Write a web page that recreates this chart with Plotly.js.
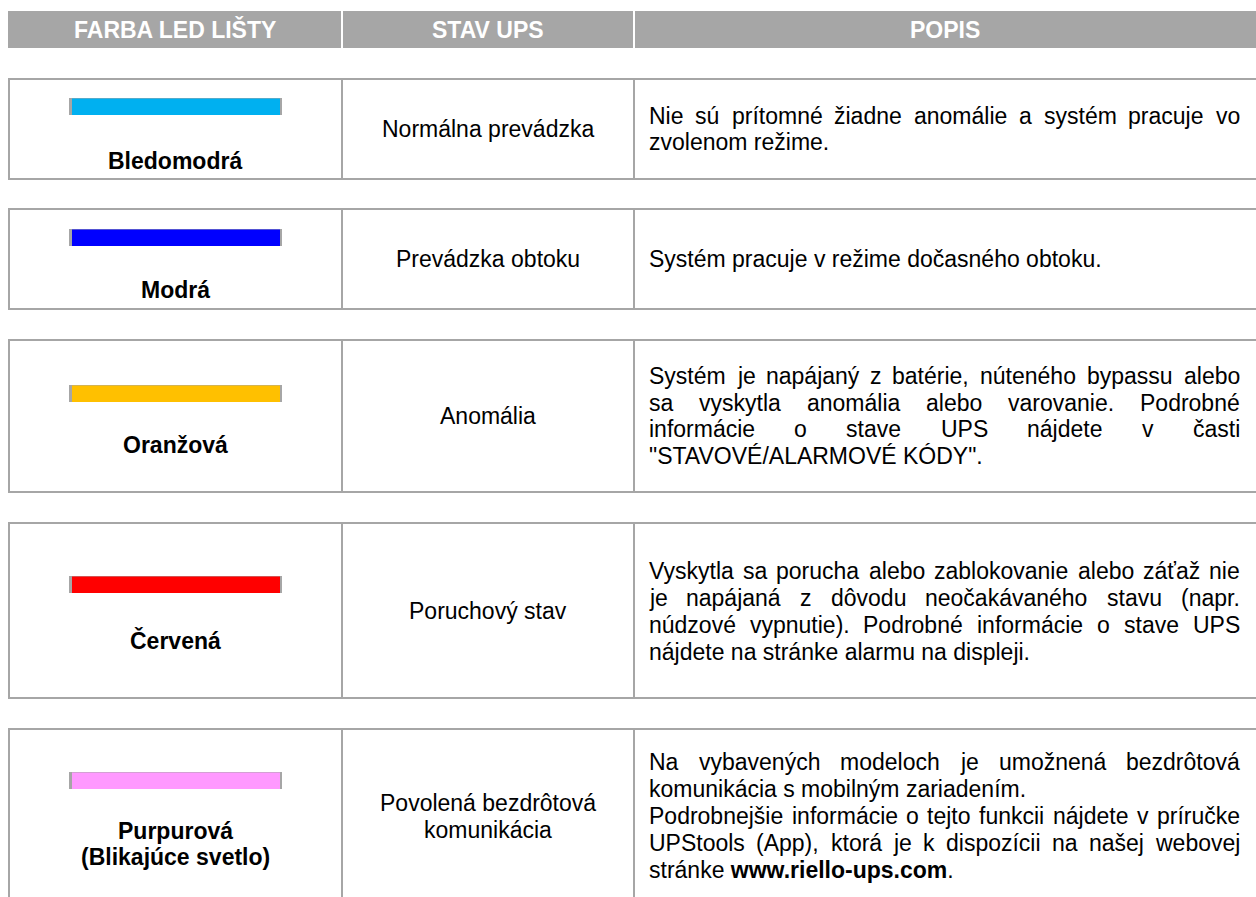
<!DOCTYPE html>
<html><head><meta charset="utf-8">
<script src="https://cdn.plot.ly/plotly-3.0.1.min.js"></script>
<style>html,body{margin:0;padding:0;background:#fff;overflow:hidden}#chart{width:1256px;height:897px}</style>
</head><body><div id="chart"></div>
<script>
// ---------- data ----------
const headers = ["FARBA LED LIŠTY", "STAV UPS", "POPIS"];
const colorNames = [["Bledomodrá"], ["Modrá"], ["Oranžová"], ["Červená"], ["Purpurová", "(Blikajúce svetlo)"]];
const ledColors = ["#00b0f0", "#0000ff", "#ffc000", "#ff0000", "#ff99ff"];
const states = [["Normálna prevádzka"], ["Prevádzka obtoku"], ["Anomália"], ["Poruchový stav"], ["Povolená bezdrôtová", "komunikácia"]];
const descriptions = [
  [["Nie sú prítomné žiadne anomálie a systém pracuje vo", "zvolenom režime."]],
  [["Systém pracuje v režime dočasného obtoku."]],
  [["Systém je napájaný z batérie, núteného bypassu alebo", "sa vyskytla anomália alebo varovanie. Podrobné", "informácie o stave UPS nájdete v časti", "\"STAVOVÉ/ALARMOVÉ KÓDY\"."]],
  [["Vyskytla sa porucha alebo zablokovanie alebo záťaž nie", "je napájaná z dôvodu neočakávaného stavu (napr.", "núdzové vypnutie). Podrobné informácie o stave UPS", "nájdete na stránke alarmu na displeji."]],
  [["Na vybavených modeloch je umožnená bezdrôtová", "komunikácia s mobilným zariadením."],
   ["Podrobnejšie informácie o tejto funkcii nájdete v príručke", "UPStools (App), ktorá je k dispozícii na našej webovej", "stránke <b>www.riello-ups.com</b>."]]
];

// ---------- layout constants ----------
const W = 1256, H = 897;
const colEdges = [8, 342, 634, 1256];
const headerTop = 11, headerBottom = 48;
const rowTop = [79, 209, 340, 523, 729];
const rowBottom = [179, 309, 492, 698, null];
const barTop = [98, 229, 385, 576, 772];
const barH = 17, barX0 = 69, barX1 = 282;
const labelY = [[161], [290], [445], [640], [831, 857]];
const stateY = [[129], [259], [416], [611], [803, 829.5]];
const descY = [[115.6, 142.4], [259], [375.8, 402.6, 429.4, 456.2], [571.3, 598.1, 624.9, 651.7], [762.4, 789.2, 816, 842.8, 869.6]];
const descLeft = 649, descRight = 1240;
const FONT = "Liberation Sans, Arial, sans-serif";
const FS = 23;
const GRID = "#a6a6a6";

const ctx = document.createElement("canvas").getContext("2d");
ctx.font = FS + "px 'Liberation Sans'";
const tw = s => ctx.measureText(s).width;

const shapes = [];
const annotations = [];
const line = (x0, y0, x1, y1, color, w) => shapes.push({type: "line", xref: "x", yref: "y", x0, y0, x1, y1, line: {color, width: w}});
const rect = (x0, y0, x1, y1, fill) => shapes.push({type: "rect", xref: "x", yref: "y", x0, y0, x1, y1, fillcolor: fill, line: {width: 0}});
const text = (t, x, y, xanchor, opts = {}) => annotations.push({
  text: t, x, y, xref: "x", yref: "y", xanchor, yanchor: "middle", showarrow: false,
  borderpad: 0, borderwidth: 0, font: {family: FONT, size: FS, color: opts.color || "#000"}
});

// header
rect(colEdges[0], headerTop, colEdges[3], headerBottom, GRID);
line(colEdges[1], headerTop, colEdges[1], headerBottom, "#ffffff", 2);
line(colEdges[2], headerTop, colEdges[2], headerBottom, "#ffffff", 2);
headers.forEach((h, i) => text("<b>" + h + "</b>", (colEdges[i] + colEdges[i + 1]) / 2, (headerTop + headerBottom) / 2, "center", {color: "#ffffff"}));

// rows
rowTop.forEach((top, r) => {
  const bottom = rowBottom[r] === null ? H + 2 : rowBottom[r];
  line(colEdges[0], top, colEdges[3], top, GRID, 2);
  if (rowBottom[r] !== null) line(colEdges[0], bottom, colEdges[3], bottom, GRID, 2);
  [0, 1, 2].forEach(c => line(colEdges[c] + (c === 0 ? 1 : 0), top, colEdges[c] + (c === 0 ? 1 : 0), bottom, GRID, 2));

  // LED bar
  rect(barX0, barTop[r], barX1, barTop[r] + barH, GRID);
  rect(barX0 + 3, barTop[r] + 0.5, barX1 - 2, barTop[r] + barH, ledColors[r]);

  // color name
  const cx1 = (colEdges[0] + colEdges[1]) / 2;
  colorNames[r].forEach((t, k) => text("<b>" + t + "</b>", cx1, labelY[r][k], "center"));
  // state
  const cx2 = (colEdges[1] + colEdges[2]) / 2;
  states[r].forEach((t, k) => text(t, cx2, stateY[r][k], "center"));
  // description (justified)
  let li = 0;
  descriptions[r].forEach(par => {
    par.forEach((ln, k) => {
      const y = descY[r][li++];
      const last = k === par.length - 1;
      const words = ln.split(" ");
      if (last || words.length < 2) {
        text(ln, descLeft, y, "left");
      } else {
        const total = words.reduce((s, wd) => s + tw(wd), 0);
        const gap = (descRight - descLeft - total) / (words.length - 1);
        let x = descLeft;
        words.forEach((wd, j) => {
          if (j === words.length - 1) text(wd, descRight, y, "right");
          else text(wd, x, y, "left");
          x += tw(wd) + gap;
        });
      }
    });
  });
});

const layout = {
  width: W, height: H,
  margin: {l: 0, r: 0, t: 0, b: 0, pad: 0},
  paper_bgcolor: "#ffffff", plot_bgcolor: "#ffffff",
  xaxis: {range: [0, W], visible: false, fixedrange: true},
  yaxis: {range: [H, 0], visible: false, fixedrange: true},
  showlegend: false,
  shapes, annotations
};
Plotly.newPlot("chart", [{type: "scatter", x: [], y: [], hoverinfo: "skip"}], layout, {displayModeBar: false, staticPlot: true});
</script>
</body></html>
